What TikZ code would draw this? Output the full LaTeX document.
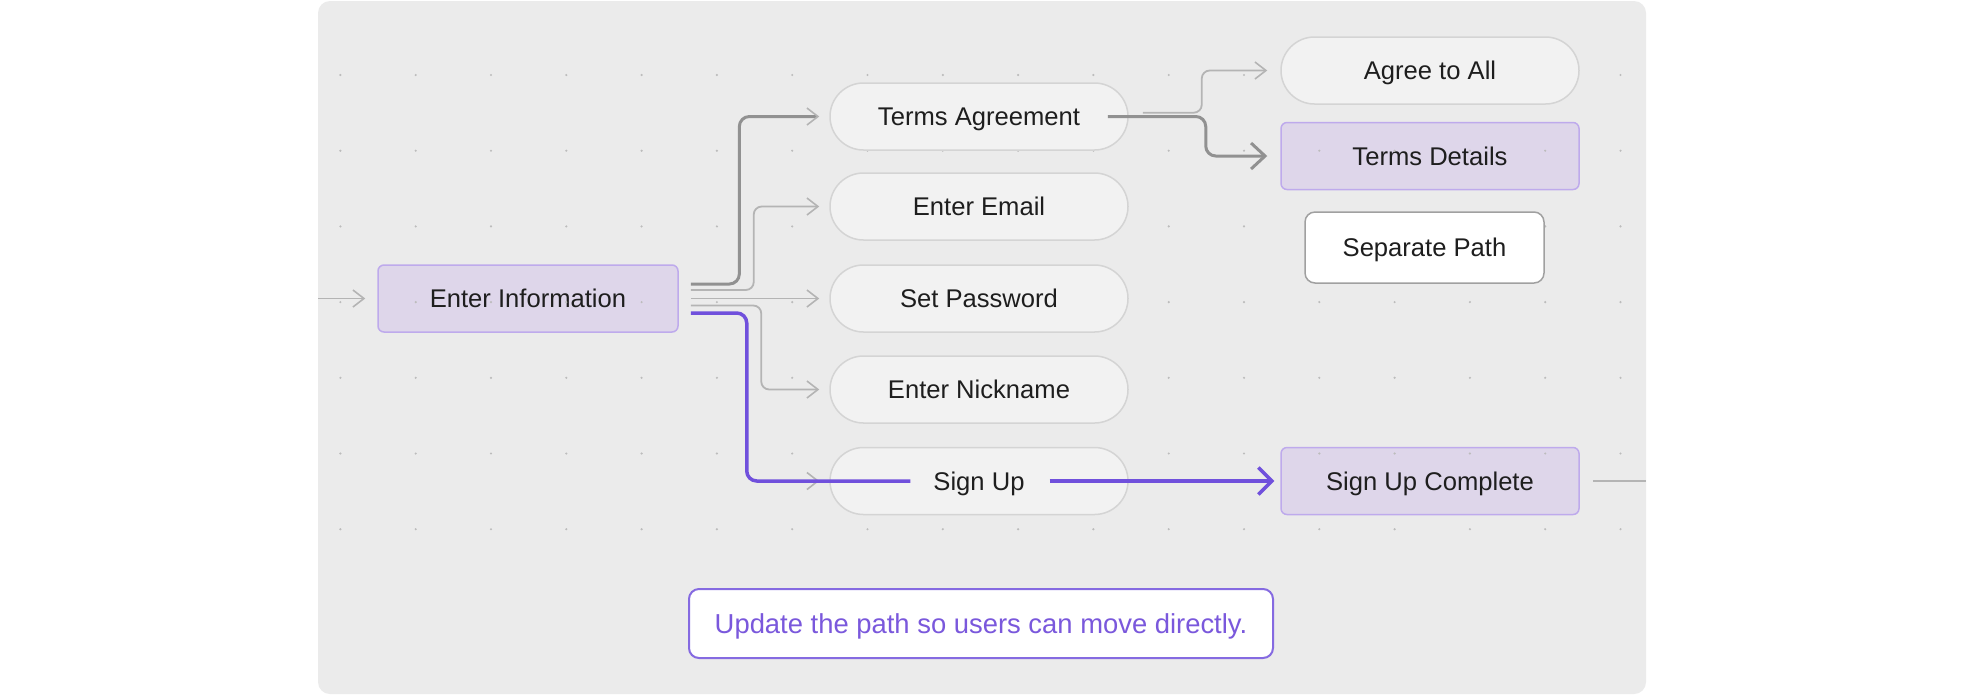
\documentclass[tikz,border=0pt]{standalone}
\usepackage{fontspec}
\setmainfont{Liberation Sans}
\usetikzlibrary{arrows.meta,shapes.misc}
\definecolor{panelbg}{RGB}{235,235,235}
\definecolor{pillfill}{RGB}{242,242,242}
\definecolor{pillline}{RGB}{212,212,212}
\definecolor{lavfill}{RGB}{222,214,234}
\definecolor{lavline}{RGB}{190,170,236}
\definecolor{purp}{RGB}{112,80,220}
\definecolor{notetext}{RGB}{122,88,220}
\definecolor{darkln}{RGB}{145,145,145}
\definecolor{lightln}{RGB}{180,180,180}
\definecolor{dotc}{RGB}{188,188,188}
\definecolor{txt}{RGB}{30,30,30}
\definecolor{sepline}{RGB}{160,160,160}
\tikzset{
  nfont/.style={font=\fontsize{12.8}{15}\selectfont, text height=9.2pt, text depth=0pt},
  pill/.style={rounded rectangle, draw=pillline, line width=0.75pt, fill=pillfill,
    minimum width=149pt, minimum height=33.5pt, inner sep=0pt, text=txt, nfont},
  lav/.style={rectangle, rounded corners=3pt, draw=lavline, line width=0.75pt, fill=lavfill,
    minimum width=149pt, minimum height=33.5pt, inner sep=0pt, text=txt, nfont},
  sepbox/.style={rectangle, rounded corners=5pt, draw=sepline, line width=0.75pt, fill=white,
    minimum width=119.5pt, minimum height=35.5pt, inner sep=0pt, text=txt, nfont},
  notebox/.style={rectangle, rounded corners=5pt, draw=purp!85, line width=1pt, fill=white,
    minimum width=292pt, minimum height=34.5pt, inner sep=0pt, text=notetext,
    font=\fontsize{13.7}{16}\selectfont, text height=9.8pt, text depth=0pt},
  dk/.style={draw=darkln, line width=1.5pt, rounded corners=5pt},
  lt/.style={draw=lightln, line width=0.9pt, rounded corners=4pt},
  pu/.style={draw=purp, line width=1.75pt, rounded corners=5pt},
  ga/.style={-{Straight Barb[length=5.5pt,width=8.5pt,line width=0.8pt,color=lightln]}},
  bigga/.style={-{Straight Barb[length=7pt,width=13pt,line width=1.5pt,color=darkln]}},
  pua/.style={-{Straight Barb[length=6.7pt,width=13.5pt,line width=1.75pt,color=purp]}},
}
\begin{document}
\begin{tikzpicture}[x=0.5pt,y=-0.5pt]
\useasboundingbox (0,0) rectangle (1965,698);
\fill[white] (0,0) rectangle (1965,698);
\fill[panelbg, rounded corners=6pt] (318,1) rectangle (1646,694);

% highlighted boxes (dots show over them)
\node[lav, minimum width=150pt] (ei) at (528,298.5) {Enter Information};
\node[lav] (td) at (1430,156) {Terms Details};
\node[lav] (suc) at (1430,481) {Sign Up Complete};

% dot grid
\foreach \i in {0,...,17}
  \foreach \j in {0,...,6}
    \fill[dotc] (340.4+75.3*\i, 75+75.7*\j) circle (0.6pt);

% pills and other boxes
\node[pill] (ta) at (979,116.5) {Terms Agreement};
\node[pill] (em) at (979,206.5) {Enter Email};
\node[pill] (pw) at (979,298.5) {Set Password};
\node[pill] (nn) at (979,389.5) {Enter Nickname};
\node[pill] (su) at (979,481) {Sign Up};
\node[pill] (aa) at (1430,70.5) {Agree to All};
\node[sepbox] (sp) at (1424.5,247.5) {Separate Path};
\node[notebox] (note) at (981,623.5) {Update the path so users can move directly.};

% incoming and outgoing
\coordinate (inL) at (318,298.5);
\coordinate (outR) at (1646,481);
\draw[lt, ga] (inL) -- ([xshift=-6pt]ei.west);
\draw[lt] ([xshift=6.5pt]suc.east) -- (outR);

% from Enter Information
\draw[dk, ga] ([shift={(6pt,7.25pt)}]ei.east) -- ++(24.3pt,0) |- ([xshift=-5pt]ta.west);
\draw[lt, ga] ([shift={(6pt,4.25pt)}]ei.east) -- ++(31.5pt,0) |- ([xshift=-5pt]em.west);
\draw[lt, ga] ([xshift=6pt]ei.east) -- ([xshift=-5pt]pw.west);
\draw[lt, ga] ([shift={(6pt,-3.5pt)}]ei.east) -- ++(35.25pt,0) |- ([xshift=-5pt]nn.west);
\draw[lt, ga] ([xshift=-36pt]su.west) -- ([xshift=-5pt]su.west);
\draw[pu] ([shift={(6pt,-7.25pt)}]ei.east) -- ++(28pt,0) |- ([xshift=-34.3pt]su.center);
\draw[pu, pua, rounded corners=0pt] ([xshift=35.3pt]su.center) -- ([xshift=-3pt]suc.west);

% from Terms Agreement
\draw[lt, ga] ([shift={(7pt,1.9pt)}]ta.east) -- ++(29.5pt,0) |- ([xshift=-6.5pt]aa.west);
\draw[dk, bigga] ([xshift=-10.5pt]ta.east) -- ++(49pt,0) |- ([xshift=-6.5pt]td.west);
\end{tikzpicture}
\end{document}
